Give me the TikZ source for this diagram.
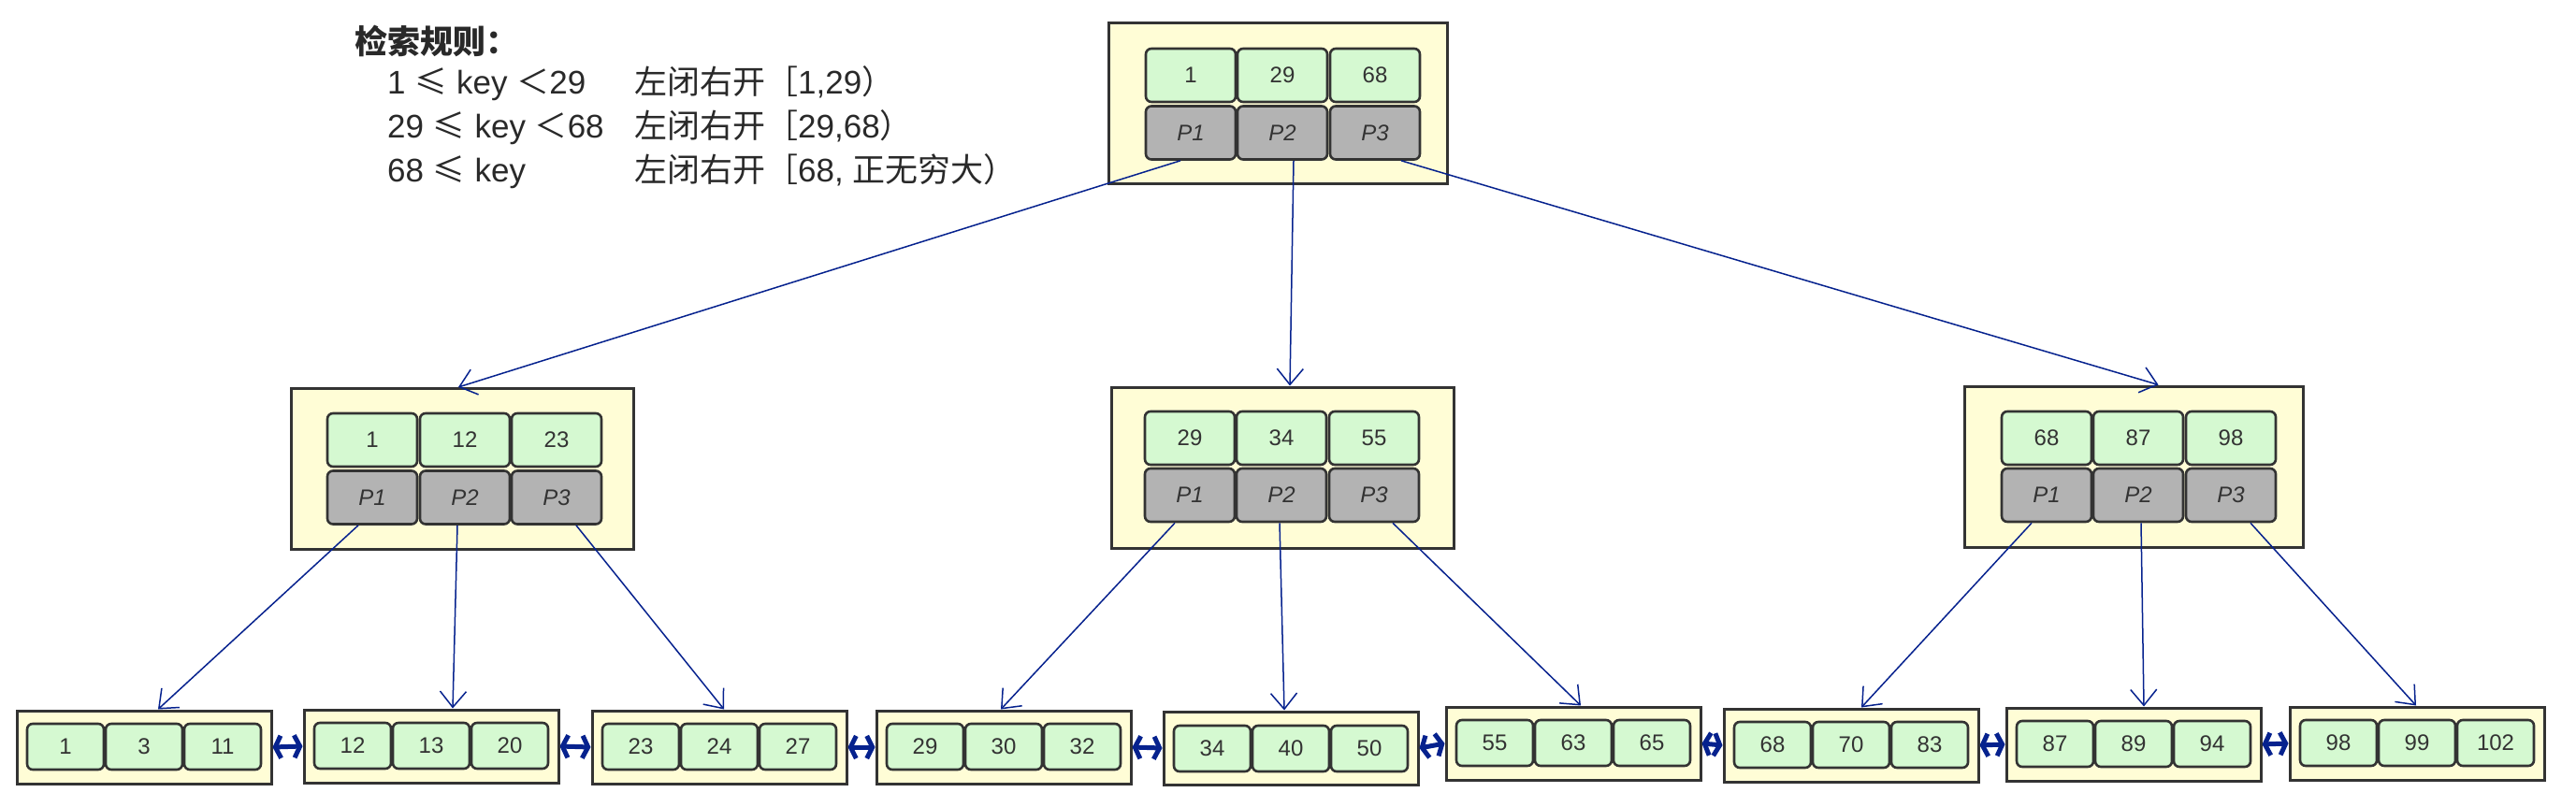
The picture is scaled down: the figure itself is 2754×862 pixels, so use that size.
\documentclass[tikz,border=0pt]{standalone}
\usepackage{fontspec}
\setmainfont{Liberation Sans}
\newfontfamily\cjkfont{Noto Sans CJK SC}
\usetikzlibrary{arrows.meta}

\definecolor{nodefill}{RGB}{255,253,214}
\definecolor{keyfill}{RGB}{213,249,209}
\definecolor{ptrfill}{RGB}{179,179,179}
\definecolor{edgeblue}{RGB}{6,34,142}
\definecolor{inkgray}{RGB}{51,51,51}

\begin{document}
\begin{tikzpicture}[
    x=1pt, y=-1pt,
    pagebox/.style={
        draw=inkgray,
        line width=3pt,
        fill=nodefill,
        inner sep=0pt,
        minimum width=362pt,
        minimum height=172pt
    },
    leafbox/.style={pagebox, minimum width=272pt, minimum height=78pt},
    keycell/.style={
        draw=inkgray,
        line width=2.6pt,
        fill=keyfill,
        rounded corners=6pt,
        inner sep=0pt,
        minimum width=96pt,
        minimum height=57pt,
        text=inkgray,
        font=\fontsize{24}{28}\selectfont
    },
    ptrcell/.style={keycell, fill=ptrfill, font=\fontsize{24}{28}\selectfont\itshape},
    leafcell/.style={keycell, minimum width=82pt, minimum height=49pt},
    link/.style={draw=edgeblue, line width=1.5pt, -{Straight Barb[length=17pt,width=28pt]}},
    dlink/.style={draw=edgeblue, line width=5pt,
        {Straight Barb[length=6pt,width=24pt]}-{Straight Barb[length=6pt,width=24pt]}}
]
\useasboundingbox (0,0) rectangle (2754,862);

% search rule
\node[font=\cjkfont\bfseries\fontsize{35}{40}\selectfont, text=inkgray!80!black, anchor=west] (title) at (376,44) {检索规则：};
\node[font=\fontsize{35}{47}\selectfont, text=inkgray!80!black, anchor=base west, inner sep=0pt] (rules) at (414,100) {%
\begin{tabular}[t]{@{}p{264pt}@{}l@{}}
1 {\cjkfont ≤} key {\cjkfont ＜}29 & {\cjkfont 左闭右开［}1,29{\cjkfont ）}\\
29 {\cjkfont ≤} key {\cjkfont ＜}68 & {\cjkfont 左闭右开［}29,68{\cjkfont ）}\\
68 {\cjkfont ≤} key & {\cjkfont 左闭右开［}68, {\cjkfont 正无穷大）}
\end{tabular}};

% root
\node[pagebox] (root) at (1366,110) {};
\node[keycell] (rk1) at (1273,80.5) {1};
\node[keycell] (rk2) at (1371,80.5) {29};
\node[keycell] (rk3) at (1470,80.5) {68};
\node[ptrcell] (rp1) at (1273,142) {P1};
\node[ptrcell] (rp2) at (1371,142) {P2};
\node[ptrcell] (rp3) at (1470,142) {P3};

% second level
\node[pagebox, minimum width=366pt] (midl) at (494,501.5) {};
\node[keycell] (lk1) at (398,470.5) {1};
\node[keycell] (lk2) at (497,470.5) {12};
\node[keycell] (lk3) at (595,470.5) {23};
\node[ptrcell] (lp1) at (398,532) {P1};
\node[ptrcell] (lp2) at (497,532) {P2};
\node[ptrcell] (lp3) at (595,532) {P3};

\node[pagebox, minimum width=366pt] (midc) at (1371,500) {};
\node[keycell] (ck1) at (1272,468.5) {29};
\node[keycell] (ck2) at (1370,468.5) {34};
\node[keycell] (ck3) at (1469,468.5) {55};
\node[ptrcell] (cp1) at (1272,529.5) {P1};
\node[ptrcell] (cp2) at (1370,529.5) {P2};
\node[ptrcell] (cp3) at (1469,529.5) {P3};

\node[pagebox] (midr) at (2281.5,499) {};
\node[keycell] (qk1) at (2188,468.5) {68};
\node[keycell] (qk2) at (2286,468.5) {87};
\node[keycell] (qk3) at (2385,468.5) {98};
\node[ptrcell] (qp1) at (2188,529.5) {P1};
\node[ptrcell] (qp2) at (2286,529.5) {P2};
\node[ptrcell] (qp3) at (2385,529.5) {P3};

% leaves
\node[leafbox] (l1) at (154,799) {};
\node[leafcell] at (70,798.5) {1};
\node[leafcell] at (154,798.5) {3};
\node[leafcell] at (238,798.5) {11};

\node[leafbox] (l2) at (461,798) {};
\node[leafcell] at (377,797.5) {12};
\node[leafcell] at (461,797.5) {13};
\node[leafcell] at (545,797.5) {20};

\node[leafbox] (l3) at (769,799) {};
\node[leafcell] at (685,798.5) {23};
\node[leafcell] at (769,798.5) {24};
\node[leafcell] at (853,798.5) {27};

\node[leafbox] (l4) at (1073,799) {};
\node[leafcell] at (989,798.5) {29};
\node[leafcell] at (1073,798.5) {30};
\node[leafcell] at (1157,798.5) {32};

\node[leafbox] (l5) at (1380,800) {};
\node[leafcell] at (1296,800.5) {34};
\node[leafcell] at (1380,800.5) {40};
\node[leafcell] at (1464,800.5) {50};

\node[leafbox] (l6) at (1682,795) {};
\node[leafcell] at (1598,794.5) {55};
\node[leafcell] at (1682,794.5) {63};
\node[leafcell] at (1766,794.5) {65};

\node[leafbox] (l7) at (1979,797) {};
\node[leafcell] at (1895,796.5) {68};
\node[leafcell] at (1979,796.5) {70};
\node[leafcell] at (2063,796.5) {83};

\node[leafbox] (l8) at (2281,796) {};
\node[leafcell] at (2197,795.5) {87};
\node[leafcell] at (2281,795.5) {89};
\node[leafcell] at (2365,795.5) {94};

\node[leafbox] (l9) at (2584,795) {};
\node[leafcell] at (2500,794.5) {98};
\node[leafcell] at (2584,794.5) {99};
\node[leafcell] at (2668,794.5) {102};

% pointers
\draw[link] ([xshift=-11pt]rp1.south) -- ([xshift=-4pt]midl.north);
\draw[link] ([xshift=12pt]rp2.south) -- ([xshift=8pt]midc.north);
\draw[link] ([xshift=28pt]rp3.south) -- ([xshift=26pt]midr.north);

\draw[link] ([xshift=-15pt]lp1.south) -- ([xshift=15pt]l1.north);
\draw[link] ([xshift=-8pt]lp2.south) -- ([xshift=23pt]l2.north);
\draw[link] ([xshift=21pt]lp3.south) -- ([xshift=5pt]l3.north);

\draw[link] ([xshift=-16pt]cp1.south) -- ([xshift=-3pt]l4.north);
\draw[link] ([xshift=-2pt]cp2.south) -- ([xshift=-7pt]l5.north);
\draw[link] ([xshift=20pt]cp3.south) -- ([xshift=8pt]l6.north);

\draw[link] ([xshift=-16pt]qp1.south) -- ([xshift=11pt]l7.north);
\draw[link] ([xshift=3pt]qp2.south) -- ([xshift=11pt]l8.north);
\draw[link] ([xshift=21pt]qp3.south) -- ([xshift=-1pt]l9.north);

% leaf chain
\draw[dlink] (l1.east) -- (l2.west);
\draw[dlink] (l2.east) -- (l3.west);
\draw[dlink] (l3.east) -- (l4.west);
\draw[dlink] (l4.east) -- (l5.west);
\draw[dlink] (l5.east) -- (l6.west);
\draw[dlink] (l6.east) -- (l7.west);
\draw[dlink] (l7.east) -- (l8.west);
\draw[dlink] (l8.east) -- (l9.west);

\end{tikzpicture}
\end{document}
